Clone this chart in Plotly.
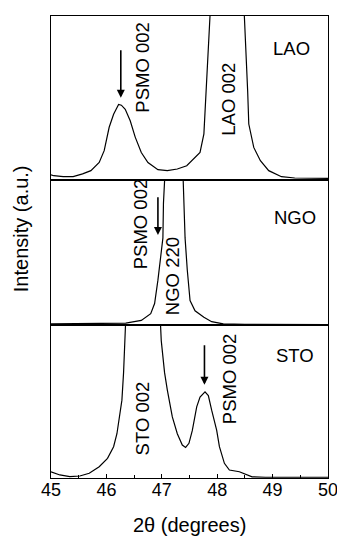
import plotly.graph_objects as go
from plotly.subplots import make_subplots

# ---- data (2theta in degrees, intensity normalised to panel height) ----
lao_x = [45.0, 45.05, 45.22, 45.40, 45.57, 45.72, 45.87, 45.96, 46.05, 46.13, 46.22, 46.27, 46.34,
         46.43, 46.52, 46.63, 46.75, 46.93, 47.10, 47.28, 47.45, 47.57, 47.69, 47.76, 47.80, 47.87,
         47.9, 48.18, 48.46, 48.49, 48.55, 48.57, 48.66, 48.78, 48.93, 49.16, 49.4, 50.0]
lao_y = [0.03, 0.024, 0.018, 0.018, 0.035, 0.055, 0.105, 0.177, 0.32, 0.40, 0.46, 0.455, 0.43,
         0.36, 0.26, 0.166, 0.105, 0.061, 0.055, 0.065, 0.085, 0.126, 0.166, 0.28, 0.54, 1.0,
         2.0, 4.0, 2.0, 1.0, 0.54, 0.34, 0.197, 0.116, 0.055, 0.018, 0.01, 0.008]

ngo_x = [45.0, 45.5, 46.0, 46.35, 46.63, 46.8, 46.87, 46.93, 47.02, 47.03, 47.05, 47.1, 47.2, 47.3,
         47.38, 47.40, 47.42, 47.46, 47.51, 47.6, 47.76, 47.9, 48.11, 48.5, 49.0, 50.0]
ngo_y = [0.01, 0.01, 0.012, 0.015, 0.034, 0.08, 0.15, 0.31, 0.60, 0.84, 0.99, 2.0, 4.0, 2.0,
         0.99, 0.77, 0.60, 0.38, 0.17, 0.1, 0.055, 0.025, 0.01, 0.007, 0.006, 0.005]

sto_x = [45.0, 45.16, 45.34, 45.52, 45.69, 45.87, 46.02, 46.13, 46.19, 46.25, 46.28, 46.31, 46.36,
         46.38, 46.5, 46.68, 46.85, 46.98, 46.99, 47.05, 47.10, 47.19, 47.28, 47.37, 47.43, 47.49,
         47.55, 47.63, 47.69, 47.78, 47.84, 47.90, 47.99, 48.04, 48.13, 48.22, 48.40, 48.63, 48.87, 50.0]
sto_y = [0.041, 0.02, 0.009, 0.013, 0.031, 0.074, 0.129, 0.205, 0.29, 0.42, 0.51, 0.69, 0.9,
         1.0, 2.0, 4.0, 2.0, 1.0, 0.90, 0.69, 0.575, 0.40, 0.29, 0.216, 0.20, 0.227,
         0.31, 0.466, 0.53, 0.564, 0.54, 0.444, 0.314, 0.205, 0.096, 0.052, 0.041, 0.008, 0.005, 0.005]

x_ticks = [45, 46, 47, 48, 49, 50]
panel_names = ["LAO", "NGO", "STO"]

FONT = "Liberation Sans, Arial, Helvetica, sans-serif"

fig = make_subplots(rows=3, cols=1, shared_xaxes=True, vertical_spacing=0,
                    row_heights=[164, 146, 153])

for i, (xs, ys) in enumerate([(lao_x, lao_y), (ngo_x, ngo_y), (sto_x, sto_y)], start=1):
    fig.add_trace(go.Scatter(x=xs, y=ys, mode="lines", line=dict(color="black", width=1.2),
                             showlegend=False, hoverinfo="skip"), row=i, col=1)

for i in range(1, 4):
    fig.update_yaxes(range=[0, 1], showticklabels=False, ticks="", showgrid=False, zeroline=False,
                     showline=True, mirror=True, linecolor="black", linewidth=1.2, row=i, col=1)
    fig.update_xaxes(range=[45, 50], showgrid=False, zeroline=False, showline=True, mirror=True,
                     linecolor="black", linewidth=1.2, row=i, col=1)

fig.update_xaxes(tickvals=x_ticks, ticks="inside", ticklen=4, tickwidth=1.2, tickcolor="black",
                 minor=dict(ticks="inside", dtick=0.5, ticklen=3, tickwidth=1, tickcolor="black"),
                 ticklabelstandoff=-5,
                 tickfont=dict(size=18, color="black", family=FONT), row=3, col=1)
fig.update_xaxes(showticklabels=False, ticks="", row=1, col=1)
fig.update_xaxes(showticklabels=False, ticks="", row=2, col=1)

def txt(text, x, y, row, angle=0, size=18.5):
    ref = "" if row == 1 else str(row)
    fig.add_annotation(text=text, x=x, y=y, xref="x" + ref, yref="y" + ref, showarrow=False,
                       textangle=angle, font=dict(size=size, color="black", family=FONT),
                       xanchor="center", yanchor="middle")

def arrow(x, y_tip, y_tail, row):
    ref = "" if row == 1 else str(row)
    fig.add_annotation(text="", x=x, y=y_tip, ax=x, ay=y_tail, xref="x" + ref, yref="y" + ref,
                       axref="x" + ref, ayref="y" + ref, showarrow=True, arrowhead=2,
                       arrowsize=1, arrowwidth=1.6, arrowcolor="black")

# top panel (LAO)
txt("PSMO 002", 46.66, 0.69, 1, -90)
txt("LAO 002", 48.2, 0.49, 1, -90)
txt(panel_names[0], 49.34, 0.80, 1)
arrow(46.26, 0.50, 0.80, 1)
# middle panel (NGO)
txt("PSMO 002", 46.61, 0.695, 2, -90)
txt("NGO 220", 47.19, 0.34, 2, -90)
txt(panel_names[1], 49.4, 0.74, 2)
arrow(46.93, 0.62, 0.89, 2)
# bottom panel (STO)
txt("STO 002", 46.66, 0.39, 3, -90)
txt("PSMO 002", 48.22, 0.65, 3, -90)
txt(panel_names[2], 49.4, 0.80, 3)
arrow(47.77, 0.61, 0.88, 3)

# axis titles (plot area spans 463 px high, 283 px wide)
fig.add_annotation(text="2θ (degrees)", xref="paper", yref="paper", x=0.5, y=-0.1015,
                   showarrow=False, font=dict(size=20, color="black", family=FONT),
                   xanchor="center", yanchor="middle")
fig.add_annotation(text="Intensity (a.u.)", xref="paper", yref="paper", x=-0.1095, y=0.54,
                   showarrow=False, textangle=-90, font=dict(size=20, color="black", family=FONT),
                   xanchor="center", yanchor="middle")

# page body has an 8px margin: shrink the figure so the plot area lands where the reference has it
fig.update_layout(width=337, height=528, margin=dict(l=43, r=11, t=7, b=58),
                  paper_bgcolor="white", plot_bgcolor="white",
                  font=dict(family=FONT, color="black"))

fig.write_html("out.html")
